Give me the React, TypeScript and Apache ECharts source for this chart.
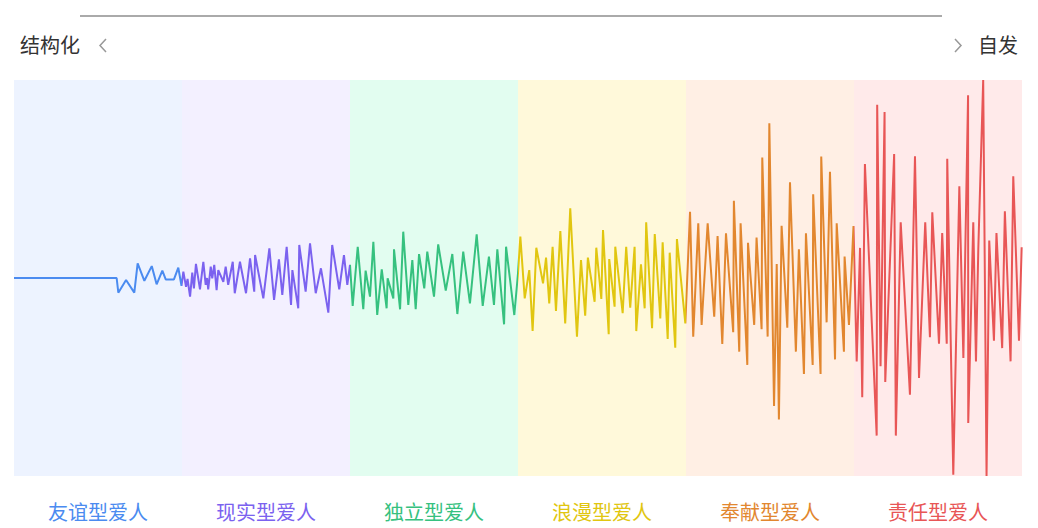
import React, { useEffect, useRef } from "react";
import * as echarts from "echarts";

// six personality bands, left (structured) to right (spontaneous)
const categories = ["友谊型爱人", "现实型爱人", "独立型爱人", "浪漫型爱人", "奉献型爱人", "责任型爱人"];
const lineColors = ["#4b8bf0", "#7b62ef", "#36c17f", "#e1c610", "#e2872f", "#e85656"];
const bandColors = ["#edf3ff", "#f3f0ff", "#e2fdf0", "#fff9da", "#ffefe4", "#ffeaea"];
const bandEdges = [0, 100, 200, 300, 400, 500, 600];

// [position, swing] readings for each band
const friendship = [
  [0, 0], [61.1, 0], [62.1, -7.4], [66.7, -1], [71.6, -7.4], [73.6, 7.4], [77.6, -1.4],
  [82, 6], [84.9, -3.2], [88.3, 3.7], [90.3, -0.7], [95.2, -0.7], [97.8, 5.2], [99.7, -4],
];
const realistic = [
  [100.8, 3.2], [102.4, -4.5], [103.3, -0.5], [104.8, -9.4], [106.1, 2.7], [107.1, -5.2],
  [108.3, 7.1], [110.7, -5.7], [112.7, 8.2], [114.1, -3.5], [114.9, 0], [115.6, -5.7],
  [117.1, 5.7], [118, -0.2], [119.2, 6.6], [120.6, -6.1], [121.6, 4], [124.6, -1.9],
  [126, 5.7], [127.5, -3.5], [130.2, 8.2], [131.4, -7.7], [134.5, 8.2], [138.1, -7.7],
  [140.5, 9.9], [143, -6.9], [143.5, 11.6], [148.4, -10.3], [152, 15], [154.8, -11.1],
  [157.7, 9.4], [159.7, -8.6], [162.3, 15.8], [164.9, -13.6], [165.7, 4], [169.2, -15.3],
  [169.8, 16.7], [173.6, -6.9], [176.2, 17.5], [179.6, -7.7], [182.7, 4.9], [187.1, -17.5],
  [189.4, 16.7], [193.6, -5.7], [196.4, 11.6], [198.4, -3.5],
];
const independent = [
  [200, 6.6], [201.6, -14.1], [204.6, 15.8], [207.9, -15.8], [209.3, 3.7], [211.9, -9.4],
  [213.9, 18.3], [216.2, -18.7], [218.9, 4.4], [221.8, -15.3], [222.4, -0.2], [225.8, -10.3],
  [226.2, 14.5], [229.8, -15.8], [231.7, 23.4], [234.7, -13.6], [237.1, 9.1], [239.1, -15.8],
  [241.1, 12.1], [244.2, -5.2], [246, 13.3], [250, -9.4], [252.5, 17], [257, -6.4],
  [260.9, 12.1], [263.9, -18.2], [267.4, 13.3], [271.4, -12.8], [275.4, 22.1], [279, -14.1],
  [282.7, 10.8], [285.7, -13.6], [287.7, 14.5], [291.7, -23.4], [292.9, 15.8], [297.8, -18.7],
  [300, 2.4],
];
const romantic = [
  [301.4, 20.9], [304, -10.3], [306.7, 4], [308.7, -26.8], [310.9, 15.3], [314.9, -2.7],
  [316.7, 10.3], [318.6, -12.8], [320.6, 15.8], [322.6, -16.7], [325.2, 23.7], [328.1, -22.9],
  [331.1, 35.2], [335.1, -29.6], [337.5, 9.1], [340, -19], [341.6, 10.3], [345.6, -12],
  [346.6, 15.3], [349.6, -10.6], [350.6, 24.2], [354, -28.4], [354.3, 9.6], [357.5, -14.5],
  [357.9, 15.8], [362.3, -17.8], [364.4, 15.8], [366.8, -15], [369.4, 15.8], [370.4, -26.8],
  [373.2, 6.9], [375.4, -15.3], [376.3, 28.1], [379.8, -25.4], [381.4, 22.2], [384.7, -20.4],
  [386.1, 18], [389.1, -30.8], [390.3, 12.8], [393.6, -35.2], [394.6, 19.7], [399.6, -22.9],
];
const devoted = [
  [402.4, 33.5], [404.3, -29.6], [407.3, 27.6], [409.3, -23.7], [412.9, 27.6], [416.8, -19.5],
  [418.8, 21.2], [421.6, -33.3], [423.8, 22.6], [428.1, -27.4], [428.5, 39], [431.7, -37.2],
  [432.5, 27.6], [436.5, -43.9], [436.9, 17.8], [440.6, -23.7], [442, 20.4], [445, -25.9],
  [445.4, 60.8], [448.6, -29.6], [449.6, 78.1], [452.4, -64.6], [454, 7.1], [455.3, -71.4],
  [456.9, 26.4], [460.3, -25.1], [461.9, 48.3], [465.4, -37.2], [467.2, 14.5], [470.2, -48.5],
  [471.4, 22.6], [475.4, -43.9], [475.7, 42.3], [480.1, -48.5], [480.5, 61.3], [483.7, -22.4],
  [485.7, 53.7], [488.7, -41.1], [489.7, 27.6], [494, -37.2], [494.4, 10.8], [497, -23.7],
  [499.7, 26.3],
];
const responsible = [
  [501.6, -42.1], [503.6, 15.2], [504.9, -60.2], [506.5, 57.6], [513.5, -79.6], [513.8, 87.5],
  [515.8, -44.6], [518.2, 83.8], [518.6, -52.5], [523.9, 62.6], [524.9, -79.6], [527.8, 28.1],
  [533.3, -58.9], [536.3, 61.5], [538.7, -50.5], [542.4, 28.1], [545.2, -29.9], [546.6, 33.2],
  [550.6, -33.2], [552.5, 22.7], [555.2, -33.2], [555.5, 60.2], [559.1, -99.3], [562.7, 46.3],
  [565.1, -40.4], [567.9, 92.3], [568, -73.2], [571, 28.1], [572.6, -42.2], [574, 15],
  [576.9, 100], [578.9, -100], [580.5, 18.9], [583.3, -31.7], [584.8, 22.7], [588.2, -35.4],
  [589.8, 33.7], [593.2, -42.1], [594.8, 51.4], [598.2, -31.7], [599.8, 15.5],
];

const FONT = "'Noto Sans CJK SC', 'Noto Sans', sans-serif";

const LoverSpectrum = () => {
  const chartRef = useRef<HTMLDivElement>(null);

  useEffect(() => {
    if (!chartRef.current) return;
    const chart = echarts.init(chartRef.current, null, { renderer: "svg" });

    const allPoints = [...friendship, ...realistic, ...independent, ...romantic, ...devoted, ...responsible];

    const option = {
      animation: false,
      grid: { left: 14, right: 16, top: 80, bottom: 52 },
      xAxis: [
        { type: "value", min: 0, max: 600, show: false },
        {
          type: "category",
          data: categories,
          position: "bottom",
          boundaryGap: true,
          axisLine: { show: false },
          axisTick: { show: false },
          splitLine: { show: false },
          axisLabel: {
            margin: 25,
            fontSize: 20,
            fontFamily: FONT,
            color: (_v: string, i: number) => lineColors[i],
          },
        },
      ],
      yAxis: { type: "value", min: -100, max: 100, show: false },
      visualMap: {
        type: "piecewise",
        show: false,
        dimension: 0,
        seriesIndex: 0,
        pieces: lineColors.map((c, i) => ({ gte: bandEdges[i], lt: bandEdges[i + 1] + (i === 5 ? 1 : 0), color: c })),
      },
      graphic: [
        { type: "line", shape: { x1: 80, y1: 16, x2: 942, y2: 16 }, style: { stroke: "#aaaaaa", lineWidth: 2 } },
        { type: "text", x: 20, y: 44, style: { text: "结构化", fontSize: 20, fontFamily: FONT, fill: "#333", verticalAlign: "middle" } },
        { type: "polyline", shape: { points: [[106, 39], [100, 45.5], [106, 52]] }, style: { stroke: "#999", lineWidth: 1.5, fill: null } },
        { type: "polyline", shape: { points: [[955, 39], [961, 45.5], [955, 52]] }, style: { stroke: "#999", lineWidth: 1.5, fill: null } },
        { type: "text", x: 978, y: 44, style: { text: "自发", fontSize: 20, fontFamily: FONT, fill: "#333", verticalAlign: "middle" } },
      ],
      series: [
        {
          type: "line",
          data: allPoints,
          showSymbol: false,
          symbol: "none",
          lineStyle: { width: 2 },
          markArea: {
            silent: true,
            data: bandColors.map((c, i) => [
              { xAxis: bandEdges[i], itemStyle: { color: c } },
              { xAxis: bandEdges[i + 1] },
            ]),
          },
        },
      ],
    };

    chart.setOption(option);

    return () => {
      chart.dispose();
    };
  }, []);

  return <div ref={chartRef} style={{ position: "absolute", left: 0, top: 0, width: "1038px", height: "528px" }}></div>;
};

export default function App() {
  return <LoverSpectrum />;
}
